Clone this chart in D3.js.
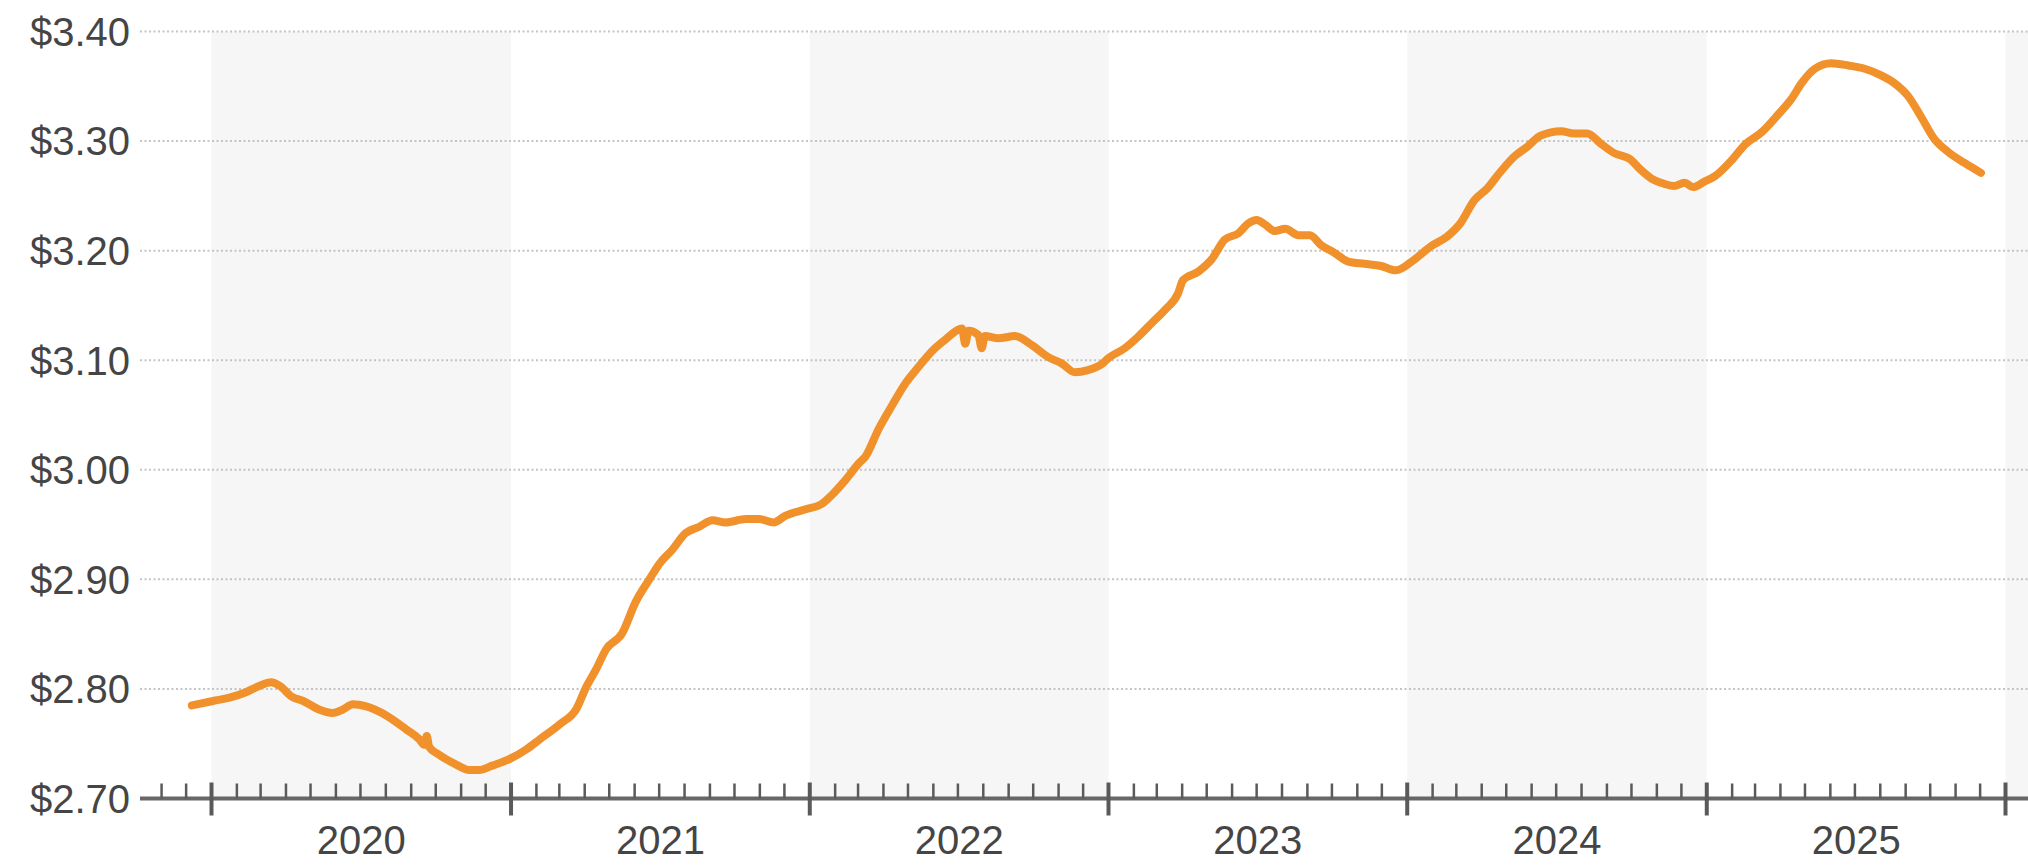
<!DOCTYPE html>
<html>
<head>
<meta charset="utf-8">
<script src="https://cdn.jsdelivr.net/npm/d3@7"></script>
<style>
  html, body { margin: 0; padding: 0; background: #ffffff; }
  svg { display: block; }
  text { font-family: "Liberation Sans", Arial, sans-serif; fill: #454545; }
</style>
</head>
<body>
<svg id="chart" width="2028" height="865"></svg>
<script>
// ---------- data ----------
const dates = [
  "2019-12-08","2020-01-03","2020-01-23","2020-02-12","2020-02-29","2020-03-14","2020-03-24","2020-04-08",
  "2020-04-22","2020-05-12","2020-05-28","2020-06-09","2020-06-22","2020-07-08","2020-08-01","2020-08-26",
  "2020-09-11","2020-09-17","2020-09-20","2020-09-23","2020-10-05","2020-10-26","2020-11-11","2020-11-23",
  "2020-12-09","2020-12-30","2021-01-20","2021-02-05","2021-03-02","2021-03-22","2021-04-03","2021-04-15",
  "2021-04-27","2021-05-17","2021-06-02","2021-06-19","2021-07-01","2021-07-17","2021-08-02","2021-08-19",
  "2021-09-04","2021-09-20","2021-10-15","2021-10-31","2021-11-18","2021-12-02","2021-12-27","2022-01-16",
  "2022-01-28","2022-02-14","2022-03-02","2022-03-10","2022-03-26","2022-04-11","2022-04-28","2022-05-14",
  "2022-05-30","2022-06-16","2022-07-06","2022-07-10","2022-07-14","2022-07-26","2022-07-30","2022-08-03",
  "2022-08-19","2022-09-09","2022-09-29","2022-10-19","2022-11-05","2022-11-21","2022-12-07","2022-12-23",
  "2023-01-01","2023-01-21","2023-02-07","2023-02-23","2023-03-11","2023-03-27","2023-04-02","2023-04-21",
  "2023-05-07","2023-05-23","2023-06-09","2023-06-21","2023-07-01","2023-07-11","2023-07-23","2023-08-05",
  "2023-08-21","2023-09-04","2023-09-18","2023-10-04","2023-10-21","2023-11-10","2023-11-30","2023-12-18",
  "2024-01-10","2024-01-30","2024-02-19","2024-03-06","2024-03-23","2024-04-08","2024-04-24","2024-05-11",
  "2024-05-27","2024-06-12","2024-07-07","2024-07-23","2024-08-08","2024-08-24","2024-09-10","2024-09-30",
  "2024-10-12","2024-10-25","2024-11-10","2024-11-22","2024-12-05","2024-12-15","2024-12-29","2025-01-11",
  "2025-02-01","2025-02-17","2025-03-09","2025-03-29","2025-04-14","2025-04-27","2025-05-13","2025-06-02",
  "2025-06-23","2025-07-13","2025-08-02","2025-08-18","2025-09-04","2025-09-20","2025-10-06","2025-10-23",
  "2025-11-12","2025-12-02"
];
const prices = [
  2.785,2.789,2.792,2.797,2.803,2.806,2.803,2.793,
  2.789,2.781,2.778,2.781,2.786,2.784,2.776,2.763,
  2.754,2.749,2.757,2.747,2.740,2.731,2.726,2.726,
  2.730,2.736,2.745,2.754,2.768,2.782,2.802,2.818,
  2.836,2.851,2.879,2.900,2.914,2.927,2.942,2.948,
  2.954,2.952,2.955,2.955,2.952,2.958,2.964,2.969,
  2.977,2.991,3.006,3.012,3.037,3.058,3.079,3.094,
  3.108,3.119,3.129,3.115,3.127,3.123,3.111,3.122,
  3.120,3.122,3.114,3.103,3.097,3.089,3.091,3.096,
  3.102,3.111,3.122,3.134,3.146,3.161,3.173,3.181,
  3.192,3.210,3.216,3.225,3.228,3.224,3.218,3.220,
  3.214,3.214,3.205,3.198,3.190,3.188,3.186,3.182,
  3.192,3.204,3.213,3.225,3.246,3.257,3.272,3.286,
  3.295,3.305,3.309,3.307,3.307,3.298,3.289,3.283,
  3.274,3.266,3.261,3.259,3.262,3.258,3.263,3.268,
  3.283,3.297,3.308,3.324,3.338,3.353,3.366,3.371,
  3.369,3.366,3.360,3.353,3.341,3.322,3.302,3.290,
  3.280,3.271
];
const yTicks = [2.70, 2.80, 2.90, 3.00, 3.10, 3.20, 3.30, 3.40];
const yearLabels = ["2020","2021","2022","2023","2024","2025"];
const shadedYears = ["2020","2022","2024","2026"];

// ---------- layout ----------
const W = 2028, H = 865;
const axisY = 798.5;
const svg = d3.select("#chart");
const parse = d3.utcParse("%Y-%m-%d");
const data = dates.map((d, i) => ({ date: parse(d), value: prices[i] }));

const xBase = d3.scaleUtc()
  .domain([Date.UTC(2020,0,1), Date.UTC(2026,0,1)])
  .range([211.5, 2005.5]);
const x = d3.scaleUtc()
  .domain([xBase.invert(140), xBase.invert(W)])
  .range([140, W]);

const y = d3.scaleLinear().domain([2.70, 3.40]).range([axisY, 31.5]);

// ---------- shaded year bands ----------
svg.append("g").selectAll("rect")
  .data(shadedYears)
  .join("rect")
  .attr("x", d => x(Date.UTC(+d,0,1)))
  .attr("y", y(3.40))
  .attr("width", d => Math.min(x(Date.UTC(+d+1,0,1)), W) - x(Date.UTC(+d,0,1)))
  .attr("height", axisY - y(3.40))
  .attr("fill", "#f6f6f6");

// ---------- gridlines ----------
svg.append("g").selectAll("line")
  .data(yTicks.filter(v => v > 2.70))
  .join("line")
  .attr("x1", 140).attr("x2", W)
  .attr("y1", d => y(d)).attr("y2", d => y(d))
  .attr("stroke", "#c4c4c4")
  .attr("stroke-width", 2)
  .attr("stroke-dasharray", "2,2.5");

// ---------- y labels ----------
svg.append("g").selectAll("text")
  .data(yTicks)
  .join("text")
  .attr("x", 130)
  .attr("y", d => y(d))
  .attr("dy", "0.36em")
  .attr("text-anchor", "end")
  .attr("font-size", 40)
  .text(d => "$" + d.toFixed(2));

// ---------- x axis ----------
const axisG = svg.append("g");
axisG.append("line")
  .attr("x1", 140).attr("x2", W)
  .attr("y1", axisY).attr("y2", axisY)
  .attr("stroke", "#676767").attr("stroke-width", 4);

const months = d3.utcMonth.range(x.domain()[0], x.domain()[1]);
axisG.selectAll("line.minor")
  .data(months.filter(d => d.getUTCMonth() !== 0))
  .join("line").attr("class", "minor")
  .attr("x1", d => x(d)).attr("x2", d => x(d))
  .attr("y1", axisY - 15).attr("y2", axisY)
  .attr("stroke", "#5a5a5a").attr("stroke-width", 2.5);

axisG.selectAll("line.major")
  .data(months.filter(d => d.getUTCMonth() === 0))
  .join("line").attr("class", "major")
  .attr("x1", d => x(d)).attr("x2", d => x(d))
  .attr("y1", axisY - 16).attr("y2", axisY + 17)
  .attr("stroke", "#5a5a5a").attr("stroke-width", 4);

axisG.selectAll("text")
  .data(yearLabels)
  .join("text")
  .attr("x", d => (x(Date.UTC(+d,0,1)) + x(Date.UTC(+d+1,0,1))) / 2)
  .attr("y", 854)
  .attr("text-anchor", "middle")
  .attr("font-size", 40)
  .text(d => d);

// ---------- line ----------
const line = d3.line()
  .x(d => x(d.date))
  .y(d => y(d.value))
  .curve(d3.curveMonotoneX);

svg.append("path")
  .datum(data)
  .attr("d", line)
  .attr("fill", "none")
  .attr("stroke", "#f0912b")
  .attr("stroke-width", 8)
  .attr("stroke-linejoin", "round")
  .attr("stroke-linecap", "round");
</script>
</body>
</html>
